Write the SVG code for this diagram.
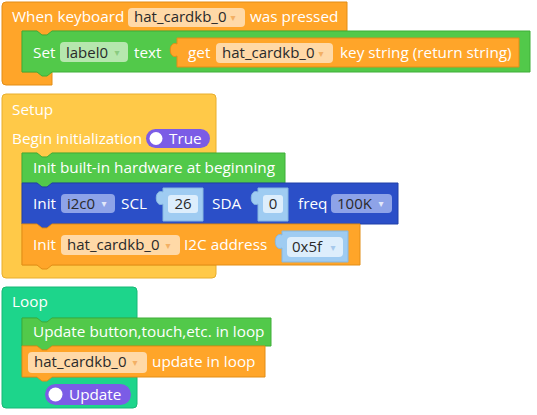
<svg xmlns="http://www.w3.org/2000/svg" width="537" height="415" viewBox="0 0 537 415">
<style>
.t{font-family:"Open Sans","Liberation Sans",sans-serif;font-size:15.3px;fill:#fff}
.d{font-family:"Open Sans","Liberation Sans",sans-serif;font-size:15px;fill:#2a2a2a}
.a{font-family:"DejaVu Sans",sans-serif;font-size:10px;text-anchor:middle}
.or{fill:#FFA529;stroke:#E28D17;stroke-width:1}
.gr{fill:#52C94A;stroke:#3FAE38;stroke-width:1}
.ye{fill:#FFC948;stroke:#E8AE2C;stroke-width:1}
.bl{fill:#2B4FC8;stroke:#2140A8;stroke-width:1}
.te{fill:#1DD58B;stroke:#17B876;stroke-width:1}
.pu{fill:#7B5CE6}
.po{fill:#FFD9A7}
.pg{fill:#B6E7AE}
.pb{fill:#8EA3E8}
.vb{fill:#9FCCF2;stroke:#86B7E0;stroke-width:1}
.vi{fill:#DDEEFC}
.ao{fill:#F3B064}
.ag{fill:#8ACB80}
.ab{fill:#E2E8FA}
.av{fill:#A6C9EC}
</style>
<g id="event_block">
<path class="or" d="M2,6 Q2,2 6,2 H347 V31 H52 l-5,4 h-5 l-5,-4 H22 V72 H52 V85 H6 Q2,85 2,81 Z"/>
<text class="t" x="12" y="22">When keyboard</text>
<rect class="po" x="128" y="8" width="117" height="19" rx="4"/>
<text class="d" x="134" y="22">hat_cardkb_0</text>
<text class="a ao" x="233" y="21">▾</text>
<text class="t" x="250" y="22">was pressed</text>
</g>
<g id="set_label_block">
<path class="gr" d="M22,31 H37 l5,4 h5 l5,-4 H530 V72 H52 l-5,4 h-5 l-5,-4 H22 Z"/>
<text class="t" x="33" y="58">Set</text>
<rect class="pg" x="60" y="42" width="68" height="20" rx="4"/>
<text class="d" x="66" y="58">label0</text>
<text class="a ag" x="117" y="56">▾</text>
<text class="t" x="134" y="58">text</text>
</g>
<g id="get_key_block">
<path class="or" d="M177,38 H519 V67 H177 V56 C168,60 168,40 177,44 Z"/>
<text class="t" x="188" y="58">get</text>
<rect class="po" x="216" y="43" width="117" height="20" rx="4"/>
<text class="d" x="222" y="58">hat_cardkb_0</text>
<text class="a ao" x="321" y="57">▾</text>
<text class="t" x="340" y="58">key string (return string)</text>
</g>
<g id="setup_block">
<path class="ye" d="M2,98 Q2,94 6,94 H212 Q216,94 216,98 V153 H52 l-5,4 h-5 l-5,-4 H22 V265 H216 V274 Q216,278 212,278 H6 Q2,278 2,274 Z"/>
<text class="t" x="12" y="115">Setup</text>
<text class="t" x="12" y="144">Begin initialization</text>
<rect class="pu" x="146" y="129" width="64" height="19" rx="9.5"/>
<circle cx="156" cy="138.5" r="6.5" fill="#fff"/>
<text class="t" x="169" y="144">True</text>
</g>
<g id="init_builtin_block">
<path class="gr" d="M22,153 H37 l5,4 h5 l5,-4 H285 V183 H52 l-5,4 h-5 l-5,-4 H22 Z"/>
<text class="t" x="33" y="173">Init built-in hardware at beginning</text>
</g>
<g id="init_i2c_block">
<path class="bl" d="M22,183 H37 l5,4 h5 l5,-4 H398 V224 H52 l-5,4 h-5 l-5,-4 H22 Z"/>
<text class="t" x="33" y="209">Init</text>
<rect class="pb" x="61" y="194" width="54" height="19" rx="4"/>
<text class="d" x="67" y="209">i2c0</text>
<text class="a ab" x="104" y="207">▾</text>
<text class="t" x="121" y="209">SCL</text>
<path class="vb" d="M163,188 H203 V221 H163 V204 C154,208 154,188 163,192 Z"/>
<rect class="vi" x="168" y="195" width="30" height="18" rx="3"/>
<text class="d" x="183" y="209" text-anchor="middle">26</text>
<text class="t" x="212" y="209">SDA</text>
<path class="vb" d="M258,188 H288 V221 H258 V204 C249,208 249,188 258,192 Z"/>
<rect class="vi" x="263" y="195" width="20" height="18" rx="3"/>
<text class="d" x="273" y="209" text-anchor="middle">0</text>
<text class="t" x="298" y="209">freq</text>
<rect class="pb" x="331" y="194" width="61" height="19" rx="4"/>
<text class="d" x="337" y="209">100K</text>
<text class="a ab" x="381" y="207">▾</text>
</g>
<g id="init_cardkb_block">
<path class="or" d="M22,224 H37 l5,4 h5 l5,-4 H360 V265 H52 l-5,4 h-5 l-5,-4 H22 Z"/>
<text class="t" x="33" y="250">Init</text>
<rect class="po" x="61" y="235" width="119" height="20" rx="4"/>
<text class="d" x="67" y="250">hat_cardkb_0</text>
<text class="a ao" x="168" y="249">▾</text>
<text class="t" x="184" y="250">I2C address</text>
<path class="vb" d="M282,231 H348 V262 H282 V248 C273,252 273,231 282,235 Z"/>
<rect class="vi" x="287" y="237" width="56" height="20" rx="4"/>
<text class="d" x="292" y="252">0x5f</text>
<text class="a av" x="333" y="251">▾</text>
</g>
<g id="loop_block">
<path class="te" d="M2,291 Q2,287 6,287 H133 Q137,287 137,291 V318 H52 l-5,4 h-5 l-5,-4 H22 V377 H137 V404 Q137,408 133,408 H6 Q2,408 2,404 Z"/>
<text class="t" x="12" y="307">Loop</text>
<rect class="pu" x="45" y="384" width="86" height="21" rx="10.5"/>
<circle cx="55.5" cy="394.5" r="7" fill="#fff"/>
<text class="t" x="69" y="400">Update</text>
</g>
<g id="update_builtin_block">
<path class="gr" d="M22,318 H37 l5,4 h5 l5,-4 H271 V346 H52 l-5,4 h-5 l-5,-4 H22 Z"/>
<text class="t" x="33" y="337">Update button,touch,etc. in loop</text>
</g>
<g id="update_cardkb_block">
<path class="or" d="M22,346 H37 l5,4 h5 l5,-4 H265 V377 H52 l-5,4 h-5 l-5,-4 H22 Z"/>
<rect class="po" x="28" y="352" width="119" height="21" rx="4"/>
<text class="d" x="34" y="367">hat_cardkb_0</text>
<text class="a ao" x="135" y="366">▾</text>
<text class="t" x="152" y="367">update in loop</text>
</g>
<g id="connectors"></g>
</svg>
